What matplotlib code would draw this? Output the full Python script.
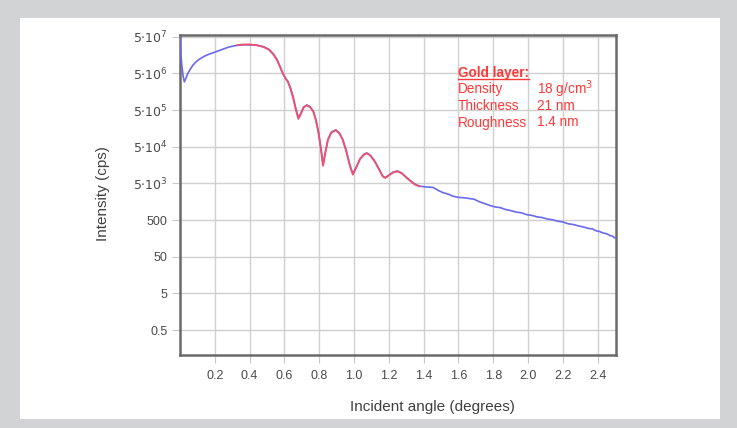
import matplotlib
matplotlib.use("Agg")
import matplotlib.pyplot as plt
from matplotlib.patches import Rectangle
from matplotlib.lines import Line2D
import numpy as np

plt.rcParams['font.family'] = ['Liberation Sans', 'DejaVu Sans']

# measured reflectivity (angle in degrees, log10 of intensity in cps)
meas_angle = [0.000, 0.004, 0.010, 0.018, 0.025, 0.035, 0.045, 0.057, 0.075, 0.095,
              0.115, 0.140, 0.170, 0.200, 0.240, 0.280, 0.320, 0.360, 0.400, 0.440,
              0.480, 0.510, 0.535, 0.557, 0.575, 0.590, 0.605, 0.620, 0.635, 0.650,
              0.665, 0.680, 0.695, 0.710, 0.728, 0.745, 0.765, 0.780, 0.795, 0.810,
              0.822, 0.835, 0.850, 0.870, 0.895, 0.915, 0.935, 0.955, 0.975, 0.993,
              1.010, 1.035, 1.060, 1.075, 1.095, 1.120, 1.145, 1.165, 1.180, 1.200,
              1.225, 1.250, 1.275, 1.300, 1.325, 1.350, 1.375, 1.400, 1.430, 1.455,
              1.480, 1.510, 1.540, 1.570, 1.600, 1.630, 1.660, 1.690, 1.720, 1.750,
              1.780, 1.810, 1.840, 1.870, 1.900, 1.930, 1.960, 1.990, 2.020, 2.050,
              2.080, 2.110, 2.140, 2.170, 2.200, 2.230, 2.260, 2.290, 2.320, 2.350,
              2.370, 2.390, 2.410, 2.430, 2.450, 2.470, 2.485, 2.500]
meas_log_int = [7.68, 7.30, 6.95, 6.62, 6.47, 6.58, 6.70, 6.80, 6.93, 7.03,
                7.10, 7.17, 7.23, 7.28, 7.35, 7.42, 7.46, 7.48, 7.48, 7.47,
                7.43, 7.36, 7.24, 7.08, 6.88, 6.70, 6.57, 6.48, 6.30, 6.06,
                5.75, 5.50, 5.62, 5.78, 5.84, 5.80, 5.68, 5.45, 5.12, 4.65,
                4.22, 4.55, 4.90, 5.10, 5.16, 5.08, 4.90, 4.60, 4.22, 3.96,
                4.12, 4.38, 4.51, 4.53, 4.46, 4.30, 4.08, 3.90, 3.86, 3.93,
                4.01, 4.04, 3.98, 3.87, 3.77, 3.68, 3.63, 3.61, 3.60, 3.59,
                3.52, 3.45, 3.41, 3.35, 3.32, 3.31, 3.29, 3.27, 3.20, 3.15,
                3.10, 3.06, 3.04, 2.99, 2.96, 2.92, 2.90, 2.85, 2.83, 2.79,
                2.77, 2.73, 2.71, 2.67, 2.65, 2.60, 2.58, 2.54, 2.51, 2.47,
                2.46, 2.41, 2.39, 2.35, 2.33, 2.28, 2.26, 2.21]

# simulated fit
fit_angle = [0.330, 0.360, 0.400, 0.440, 0.480, 0.510, 0.535, 0.557, 0.575, 0.590,
             0.605, 0.620, 0.635, 0.650, 0.665, 0.680, 0.695, 0.710, 0.728, 0.745,
             0.765, 0.780, 0.795, 0.810, 0.822, 0.835, 0.850, 0.870, 0.895, 0.915,
             0.935, 0.955, 0.975, 0.993, 1.010, 1.035, 1.060, 1.075, 1.095, 1.120,
             1.145, 1.165, 1.180, 1.200, 1.225, 1.250, 1.275, 1.300, 1.325, 1.350,
             1.375]
fit_log_int = [7.47, 7.49, 7.49, 7.47, 7.42, 7.35, 7.23, 7.07, 6.88, 6.71,
               6.58, 6.47, 6.28, 6.03, 5.72, 5.46, 5.60, 5.77, 5.83, 5.79,
               5.67, 5.44, 5.10, 4.62, 4.18, 4.53, 4.89, 5.09, 5.15, 5.07,
               4.89, 4.58, 4.20, 3.94, 4.11, 4.37, 4.50, 4.52, 4.45, 4.29,
               4.07, 3.89, 3.85, 3.92, 4.00, 4.03, 3.97, 3.86, 3.76, 3.67,
               3.62]

x_ticks = [0.2, 0.4, 0.6, 0.8, 1.0, 1.2, 1.4, 1.6, 1.8, 2.0, 2.2, 2.4]
y_ticks = [0.5, 5, 50, 500, 5e3, 5e4, 5e5, 5e6, 5e7]
y_labels = ['0.5', '5', '50', '500', r'$5{\cdot}10^{3}$', r'$5{\cdot}10^{4}$',
            r'$5{\cdot}10^{5}$', r'$5{\cdot}10^{6}$', r'$5{\cdot}10^{7}$']

fig = plt.figure(figsize=(7.37, 4.28), dpi=100, facecolor='#d1d3d5')
fig.add_artist(Rectangle((20/737, 9/428), 700/737, 401/428, transform=fig.transFigure,
                         facecolor='white', edgecolor='none', zorder=0))

ax = fig.add_axes([180/737, 1 - 355/428, 436/737, 320/428])
ax.set_yscale('log')
ax.plot(meas_angle, 10 ** np.array(meas_log_int), color='#6a6aee', lw=1.2, zorder=3)
ax.plot(fit_angle, 10 ** np.array(fit_log_int), color='#f2506a', lw=1.3, zorder=4)

ax.set_xlim(0, 2.505)
ax.set_ylim(0.105, 5.6e7)
ax.set_xticks(x_ticks)
ax.set_xticklabels([f'{t:.1f}' for t in x_ticks])
ax.set_yticks(y_ticks)
ax.set_yticklabels(y_labels)
ax.yaxis.set_minor_locator(matplotlib.ticker.NullLocator())
ax.grid(True, color='#cfcfcf', lw=1.0)
ax.tick_params(axis='both', colors='#c8c8c8', labelcolor='#4a4a4a', labelsize=9, length=6)
ax.tick_params(axis='x', pad=5)
ax.tick_params(axis='y', pad=3)
for spine in ax.spines.values():
    spine.set_color('#6a6a6a')
    spine.set_linewidth(1.8)

fig.text(432/737, 1 - 407/428, 'Incident angle (degrees)', ha='center', va='center',
         fontsize=11, color='#404040')
fig.text(103/737, 1 - 194/428, 'Intensity (cps)', ha='center', va='center',
         rotation=90, fontsize=11, color='#404040')

red = '#ff3838'
title = fig.text(458/737, 1 - 76.5/428, 'Gold layer:', fontsize=9.8, fontweight='bold',
                 color=red, va='baseline', ha='left')
fig.canvas.draw()
bb = title.get_window_extent().transformed(fig.transFigure.inverted())
fig.add_artist(Line2D([bb.x0, bb.x1], [1 - 78.5/428, 1 - 78.5/428], color=red, lw=1.0,
                      transform=fig.transFigure))
rows = [('Density', r'18 g/cm$^{3}$'), ('Thickness', '21 nm'), ('Roughness', '1.4 nm')]
for i, (name, val) in enumerate(rows):
    yy = 1 - (93.5 + 16.5 * i) / 428
    fig.text(458/737, yy, name, fontsize=9.8, color=red, va='baseline', ha='left')
    fig.text(537/737, yy, val, fontsize=9.8, color=red, va='baseline', ha='left')

fig.savefig('out.png', dpi=100, facecolor=fig.get_facecolor())
